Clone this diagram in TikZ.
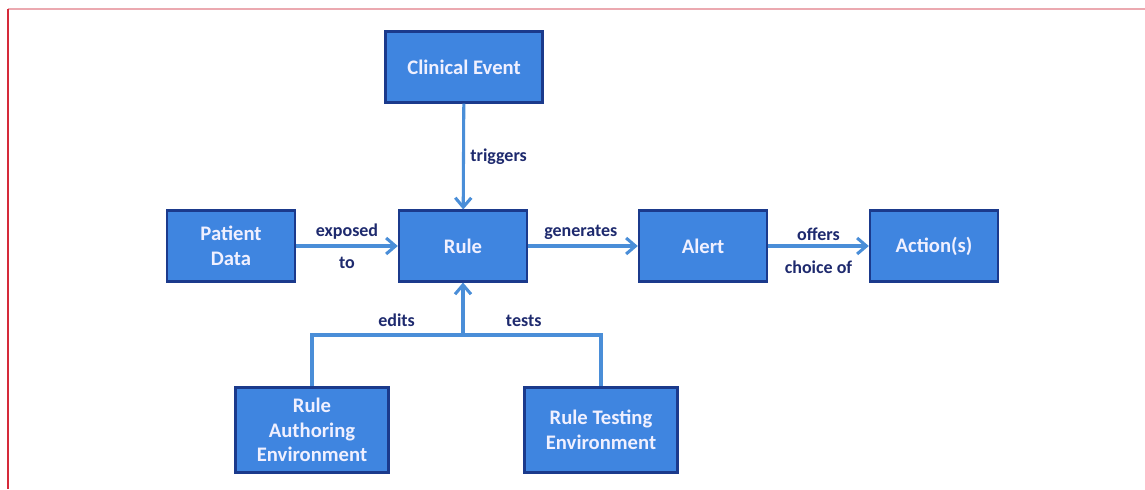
\documentclass[tikz,border=0pt]{standalone}
\usepackage{fontspec}
\setmainfont{Carlito}
\usepackage{xcolor}
\usetikzlibrary{arrows.meta, positioning}
\definecolor{boxfill}{HTML}{3F85E0}
\definecolor{boxline}{HTML}{1B3A8C}
\definecolor{linkblue}{HTML}{4A8ED8}
\definecolor{labelnavy}{HTML}{1E2A6E}
\definecolor{edgered}{HTML}{D52A3A}
\definecolor{edgepink}{HTML}{EBA9B0}

\begin{document}
\begin{tikzpicture}[x=0.75pt, y=-0.75pt, >={Straight Barb[length=7pt, width=12pt]},
  block/.style={draw=boxline, line width=1.8pt, fill=boxfill, text=white!94!blue,
    font=\fontsize{15.5}{18.5}\selectfont\bfseries, align=center,
    minimum width=96pt, minimum height=53pt, inner sep=2pt},
  link/.style={draw=linkblue, line width=2.3pt},
  lbl/.style={text=labelnavy, font=\fontsize{13.5}{15}\selectfont\bfseries, inner sep=1pt}]
  \useasboundingbox (0,0) rectangle (1145,489);
  \draw[edgepink, line width=1pt] (8,9) -- (1145,9);
  \draw[edgered, line width=1.8pt] (8,9) -- (8,489);

  \node[block, minimum width=118pt] (event) at (464,67) {Clinical Event};
  \node[block] (patient) at (231,246) {Patient\\Data};
  \node[block] (rule) at (463,246) {Rule};
  \node[block] (alert) at (703,246) {Alert};
  \node[block] (action) at (934,246) {Action(s)};
  \node[block, minimum width=115pt, minimum height=64pt] (authoring) at (312,430)
    {Rule\\Authoring\\Environment};
  \node[block, minimum width=115pt, minimum height=64pt] (testing) at (601,430)
    {Rule Testing\\Environment};
  \coordinate (junction) at (463,335);

  \draw[link, ->] (event) -- node[lbl, right=3pt, pos=0.5] {triggers} (rule);
  \draw[link, ->] (patient) -- node[lbl, above=3pt] {exposed} node[lbl, below=6pt] {to} (rule);
  \draw[link, ->] (rule) -- node[lbl, above=3pt, pos=0.48] {generates} (alert);
  \draw[link, ->] (alert) -- node[lbl, above=2pt] {offers} node[lbl, below=9pt] {choice of} (action);
  \draw[link] (authoring.north) |- node[lbl, above=4pt, pos=0.78] {edits} (junction);
  \draw[link] (testing.north) |- node[lbl, above=4pt, pos=0.78] {tests} (junction);
  \draw[link, ->] (junction) -- (rule);
\end{tikzpicture}
\end{document}
